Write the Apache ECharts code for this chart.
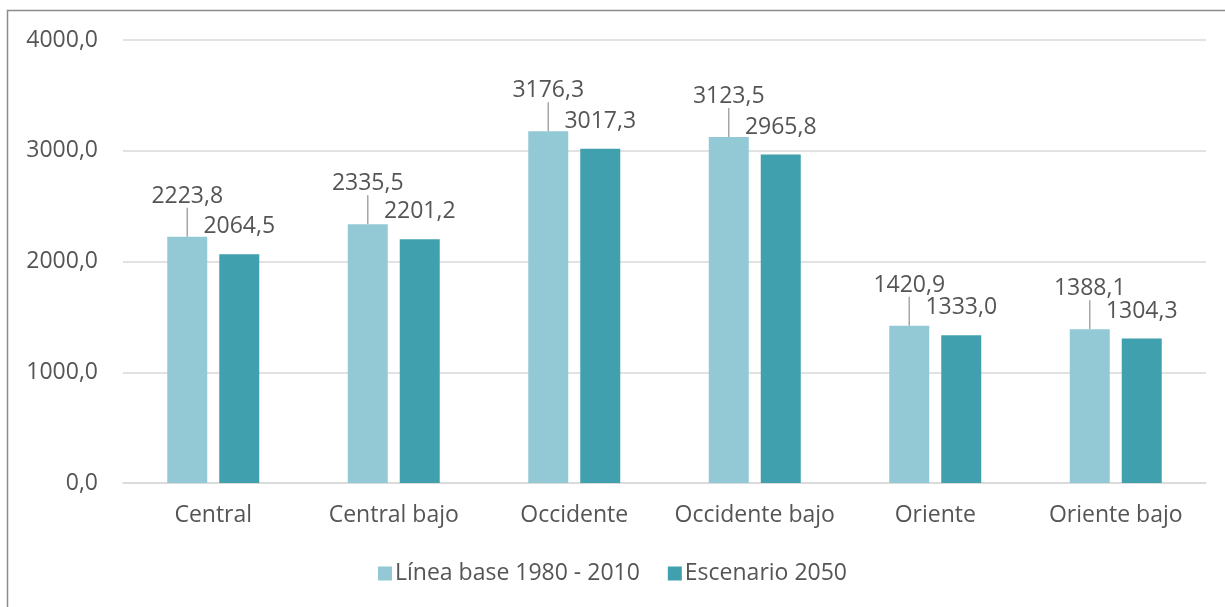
<!DOCTYPE html>
<html>
<head>
<meta charset="utf-8">
<script src="https://cdn.jsdelivr.net/npm/echarts@6/dist/echarts.min.js"></script>
<style>
  html, body { margin: 0; padding: 0; background: #fff; }
  #chart { width: 1225px; height: 607px; }
</style>
</head>
<body>
<div id="chart"></div>
<script>
// datos del grafico
var categorias = ['Central', 'Central bajo', 'Occidente', 'Occidente bajo', 'Oriente', 'Oriente bajo'];
var lineaBase = [2223.8, 2335.5, 3176.3, 3123.5, 1420.9, 1388.1];
var escenario2050 = [2064.5, 2201.2, 3017.3, 2965.8, 1333.0, 1304.3];
var nombresSeries = ['Línea base 1980 - 2010', 'Escenario 2050'];

var fuente = '"Open Sans", sans-serif';
var colorTexto = '#555555';
var tam = 23;

function coma(v) {
    return v.toFixed(1).replace('.', ',');
}

var myChart = echarts.init(document.getElementById('chart'));

var option = {
    animation: false,
    color: ['#92C9D4', '#41A0AE'],
    textStyle: { fontFamily: fuente },
    // marco del grafico
    graphic: [{
        type: 'rect',
        shape: { x: 7.5, y: 10.5, width: 1240, height: 620 },
        style: { fill: 'none', stroke: '#8c8c8c', lineWidth: 1.5 },
        silent: true
    }],
    grid: { left: 123, right: 19, top: 40, bottom: 124 },
    legend: {
        bottom: 17,
        left: 'center',
        itemWidth: 14,
        itemHeight: 14,
        itemGap: 28,
        icon: 'rect',
        textStyle: { color: colorTexto, fontSize: tam, fontFamily: fuente, padding: [0, 0, 0, -2] },
        data: nombresSeries
    },
    xAxis: {
        type: 'category',
        data: categorias,
        axisLine: { lineStyle: { color: '#d9d9d9', width: 1.5 } },
        axisTick: { show: false },
        axisLabel: { color: colorTexto, fontSize: tam, margin: 21, interval: 0, fontFamily: fuente }
    },
    yAxis: {
        type: 'value',
        min: 0,
        max: 4000,
        interval: 1000,
        axisLine: { show: false },
        axisTick: { show: false },
        splitLine: { lineStyle: { color: '#d9d9d9', width: 1.5 } },
        axisLabel: {
            color: colorTexto, fontSize: tam, margin: 25, fontFamily: fuente,
            formatter: function (v) { return coma(v); }
        }
    },
    series: [
        {
            name: nombresSeries[0],
            type: 'bar',
            data: lineaBase,
            barWidth: 40,
            barGap: '30%',
            label: {
                show: true,
                position: 'top',
                distance: 2,
                color: colorTexto,
                fontSize: tam,
                fontFamily: fuente,
                formatter: function (p) { return coma(p.value); }
            },
            labelLayout: { dy: -27 },
            labelLine: { show: true, lineStyle: { color: '#a6a6a6', width: 1.5 } }
        },
        {
            name: nombresSeries[1],
            type: 'bar',
            data: escenario2050,
            barWidth: 40,
            label: {
                show: true,
                position: 'top',
                distance: 16,
                color: colorTexto,
                fontSize: tam,
                fontFamily: fuente,
                formatter: function (p) { return coma(p.value); }
            }
        }
    ]
};

myChart.setOption(option);
</script>
</body>
</html>
